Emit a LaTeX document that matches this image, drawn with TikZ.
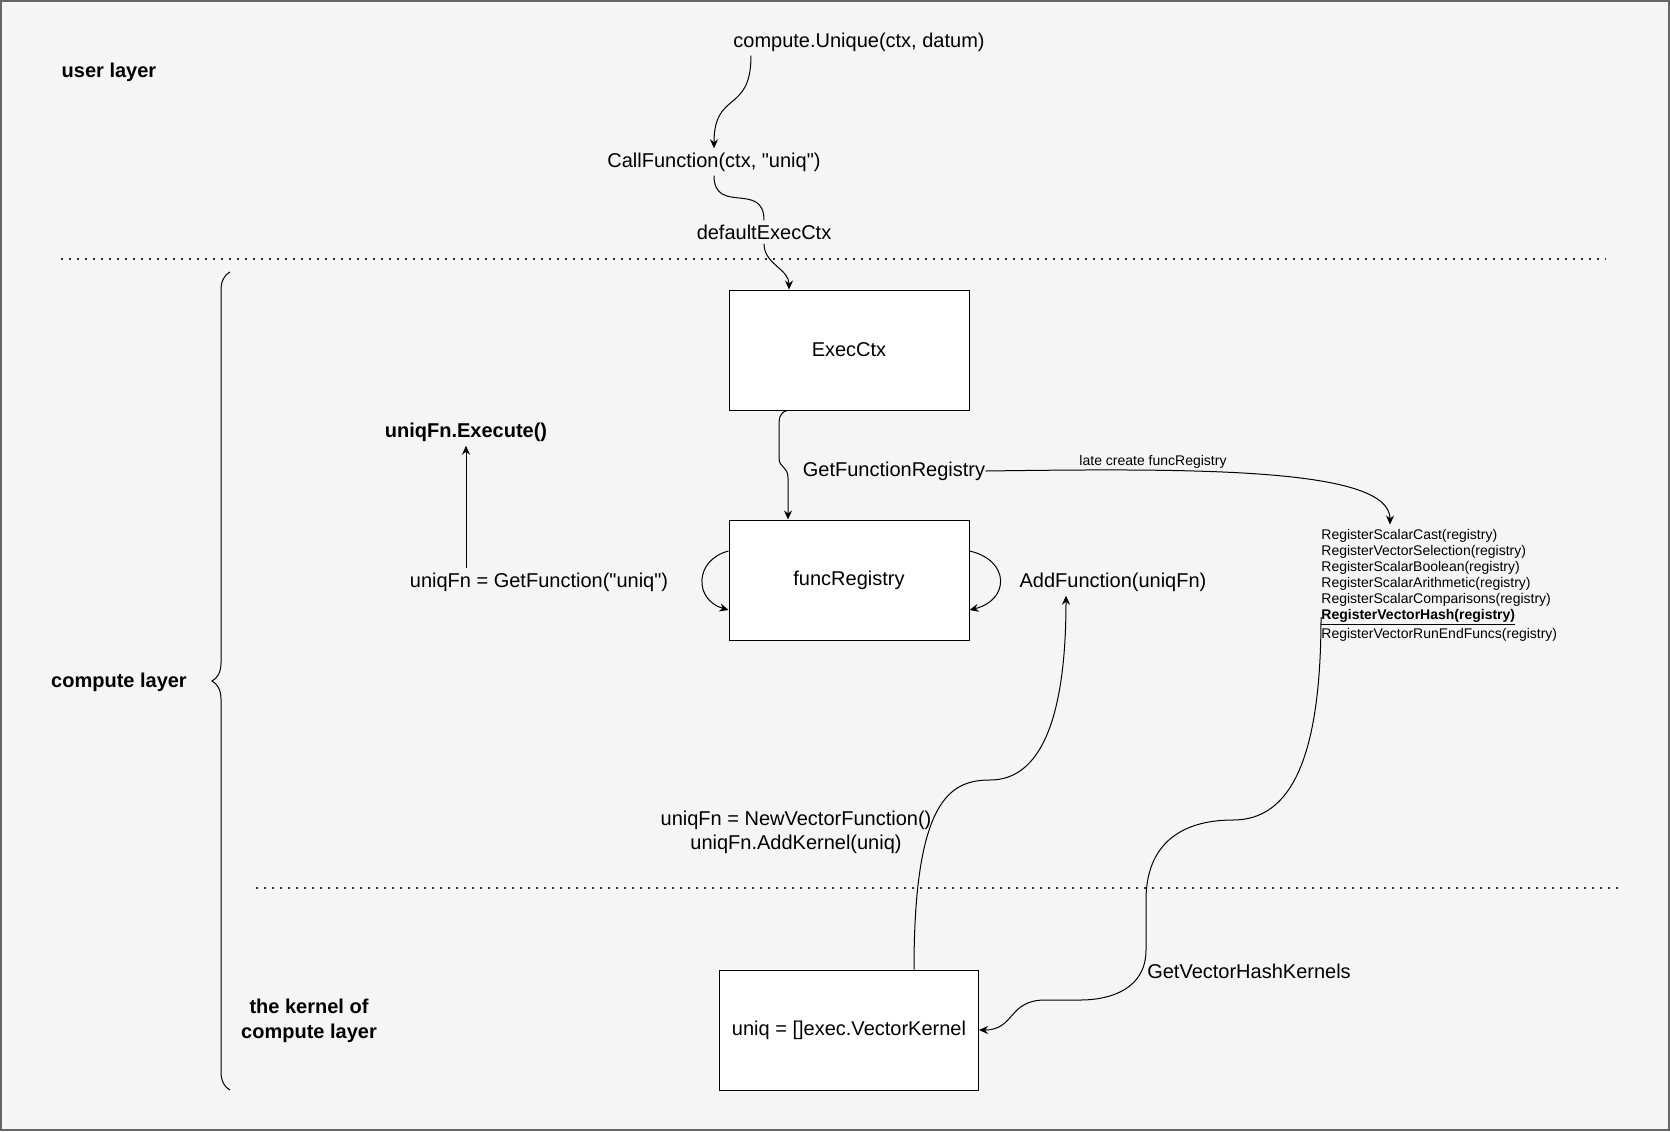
\documentclass[tikz,border=0pt]{standalone}
\usepackage{fontspec}
\setmainfont{Liberation Sans}
\usetikzlibrary{arrows.meta,decorations.pathreplacing}

\definecolor{bgcol}{HTML}{F5F5F5}
\definecolor{framecol}{HTML}{666666}

\begin{document}
\begin{tikzpicture}[x=0.5pt, y=-0.5pt,
	box/.style={draw, fill=white, line width=0.5pt, minimum width=120pt, minimum height=60pt, font=\fontsize{10pt}{12pt}\selectfont},
	txt/.style={inner sep=2pt, font=\fontsize{10pt}{12pt}\selectfont},
	btxt/.style={inner sep=2pt, font=\fontsize{10pt}{12.5pt}\selectfont\bfseries},
	smalltxt/.style={inner sep=2pt, font=\fontsize{7pt}{8pt}\selectfont},
	conn/.style={line width=0.5pt, -{Stealth[length=4.5pt, width=4pt]}},
	sepline/.style={line width=1pt, dash pattern=on 1pt off 3pt, black!80}]

	\useasboundingbox (0,0) rectangle (1670,1131);
	\draw[framecol, fill=bgcol, line width=1pt] (1,1) rectangle (1669,1130);

	% layers
	\draw[sepline] (61,259) -- (1606,259);
	\draw[sepline] (256,888) -- (1624,888);
	\draw[line width=0.5pt, decorate, decoration={brace, amplitude=9pt}] (230,1090) -- (230,272);

	\node[btxt] (ulayer) at (109,72) {user layer};
	\node[btxt] (clayer) at (119,682) {compute layer};
	\node[btxt, align=center] (klayer) at (309,1021) {the kernel of\\compute layer};

	% calls
	\node[txt] (cu) at (859,42) {compute.Unique(ctx, datum)};
	\node[txt] (call) at (714,162) {CallFunction(ctx, \textquotedbl uniq\textquotedbl)};
	\node[txt] (dctx) at (764,232) {defaultExecCtx};
	\node[box] (exec) at (849,350) {ExecCtx};
	\node[txt] (gfr) at (894,471) {GetFunctionRegistry};
	\node[smalltxt] (late) at (1153,462) {late create funcRegistry};
	\node[box] (freg) at (849,580) {funcRegistry};
	\node[btxt] (exe) at (466,432) {uniqFn.Execute()};
	\node[txt] (getfn) at (539,582) {uniqFn = GetFunction(\textquotedbl uniq\textquotedbl)};
	\node[txt] (addfn) at (1113,582) {AddFunction(uniqFn)};
	\node[smalltxt, inner xsep=0pt, anchor=west, align=left] (reglist) at (1321,585) {RegisterScalarCast(registry)\\
		RegisterVectorSelection(registry)\\
		RegisterScalarBoolean(registry)\\
		RegisterScalarArithmetic(registry)\\
		RegisterScalarComparisons(registry)\\
		\underline{\textbf{RegisterVectorHash(registry)}}\\
		RegisterVectorRunEndFuncs(registry)};
	\node[txt, align=center] (newfn) at (796,832) {uniqFn = NewVectorFunction()\\uniqFn.AddKernel(uniq)};
	\node[box, minimum width=129.5pt] (kern) at (849,1030) {uniq = []exec.VectorKernel};
	\node[txt] (ghk) at (1249,971) {GetVectorHashKernels};

	% connectors
	\draw[conn] ([xshift=11pt]cu.south west) to[out=-90, in=90, looseness=1.5] (call.north);
	\draw[line width=0.5pt] (call.south) to[out=-90, in=90, looseness=1.5] (dctx.north);
	\draw[conn] (dctx.south) to[out=-90, in=90] ([xshift=-30pt]exec.north);
	\draw[conn] ([xshift=-31pt]exec.south) .. controls (779,413) and (779,418) .. (779,430) -- (779,458)
		.. controls (779,468) and (788,466) .. (788,478) -- ([xshift=-30.5pt]freg.north);
	\draw[conn] ([xshift=-2pt]gfr.east) .. controls (1200,468) and (1390,468) .. (reglist.north -| 1390,0);
	\draw[conn] (exe.south |- getfn.north) -- (exe.south);
	\draw[conn] ([yshift=14.5pt]freg.west) .. controls (694,560) and (694,600) .. ([yshift=-15pt]freg.west);
	\draw[conn] ([yshift=14.5pt]freg.east) .. controls (1010,560) and (1010,600) .. ([yshift=-15pt]freg.east);
	\draw[conn] ([xshift=32.5pt]kern.north) .. controls (914,800) and (950,780) .. (990,780)
		.. controls (1040,780) and (1066,720) .. ([xshift=-23.5pt]addfn.south);
	\draw[conn] (reglist.west |- 0,617) .. controls (1321,760) and (1290,820) .. (1233,820)
		.. controls (1180,820) and (1146,845) .. (1146,900) -- (1146,950)
		.. controls (1146,988) and (1112,1000) .. (1080,1000) -- (1045,1000)
		.. controls (1008,1000) and (1015,1030) .. (kern.east);
\end{tikzpicture}
\end{document}
